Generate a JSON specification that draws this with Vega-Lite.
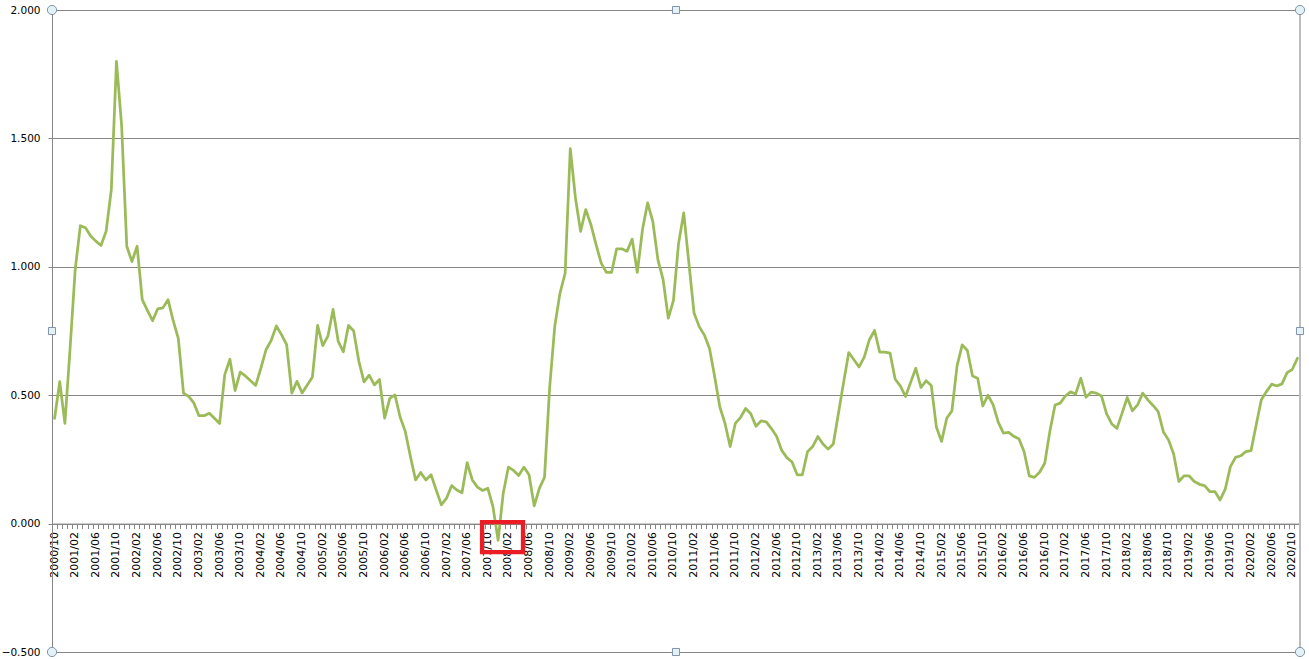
{
  "$schema": "https://vega.github.io/schema/vega-lite/v6.json",
  "width": 1248,
  "height": 642,
  "autosize": {"type": "none"},
  "padding": {"left": 52, "top": 10, "right": 9, "bottom": 7},
  "background": "white",
  "config": {
    "view": {"stroke": null},
    "axis": {"labelFont": "DejaVu Sans", "labelColor": "#000000", "domainColor": "#868686", "tickColor": "#868686", "gridColor": "#868686", "gridOpacity": 1, "domainWidth": 1, "tickWidth": 1, "gridWidth": 1}
  },
  "datasets": {
    "s": [
      {"m":"2000/10","v":0.41},{"m":"2000/11","v":0.553},{"m":"2000/12","v":0.39},
      {"m":"2001/01","v":0.68},{"m":"2001/02","v":0.99},{"m":"2001/03","v":1.16},{"m":"2001/04","v":1.152},{"m":"2001/05","v":1.12},{"m":"2001/06","v":1.10},{"m":"2001/07","v":1.083},{"m":"2001/08","v":1.139},{"m":"2001/09","v":1.30},{"m":"2001/10","v":1.80},{"m":"2001/11","v":1.55},{"m":"2001/12","v":1.08},
      {"m":"2002/01","v":1.02},{"m":"2002/02","v":1.08},{"m":"2002/03","v":0.872},{"m":"2002/04","v":0.83},{"m":"2002/05","v":0.79},{"m":"2002/06","v":0.836},{"m":"2002/07","v":0.84},{"m":"2002/08","v":0.872},{"m":"2002/09","v":0.79},{"m":"2002/10","v":0.72},{"m":"2002/11","v":0.508},{"m":"2002/12","v":0.495},
      {"m":"2003/01","v":0.47},{"m":"2003/02","v":0.42},{"m":"2003/03","v":0.42},{"m":"2003/04","v":0.43},{"m":"2003/05","v":0.41},{"m":"2003/06","v":0.39},{"m":"2003/07","v":0.58},{"m":"2003/08","v":0.64},{"m":"2003/09","v":0.518},{"m":"2003/10","v":0.59},{"m":"2003/11","v":0.575},{"m":"2003/12","v":0.556},
      {"m":"2004/01","v":0.538},{"m":"2004/02","v":0.605},{"m":"2004/03","v":0.677},{"m":"2004/04","v":0.713},{"m":"2004/05","v":0.77},{"m":"2004/06","v":0.736},{"m":"2004/07","v":0.697},{"m":"2004/08","v":0.508},{"m":"2004/09","v":0.554},{"m":"2004/10","v":0.509},{"m":"2004/11","v":0.54},{"m":"2004/12","v":0.571},
      {"m":"2005/01","v":0.772},{"m":"2005/02","v":0.693},{"m":"2005/03","v":0.73},{"m":"2005/04","v":0.834},{"m":"2005/05","v":0.71},{"m":"2005/06","v":0.669},{"m":"2005/07","v":0.772},{"m":"2005/08","v":0.75},{"m":"2005/09","v":0.632},{"m":"2005/10","v":0.552},{"m":"2005/11","v":0.578},{"m":"2005/12","v":0.54},
      {"m":"2006/01","v":0.561},{"m":"2006/02","v":0.411},{"m":"2006/03","v":0.488},{"m":"2006/04","v":0.501},{"m":"2006/05","v":0.415},{"m":"2006/06","v":0.359},{"m":"2006/07","v":0.261},{"m":"2006/08","v":0.17},{"m":"2006/09","v":0.199},{"m":"2006/10","v":0.17},{"m":"2006/11","v":0.19},{"m":"2006/12","v":0.131},
      {"m":"2007/01","v":0.073},{"m":"2007/02","v":0.099},{"m":"2007/03","v":0.148},{"m":"2007/04","v":0.131},{"m":"2007/05","v":0.12},{"m":"2007/06","v":0.237},{"m":"2007/07","v":0.17},{"m":"2007/08","v":0.142},{"m":"2007/09","v":0.129},{"m":"2007/10","v":0.138},{"m":"2007/11","v":0.066},{"m":"2007/12","v":-0.065},
      {"m":"2008/01","v":0.118},{"m":"2008/02","v":0.22},{"m":"2008/03","v":0.207},{"m":"2008/04","v":0.187},{"m":"2008/05","v":0.22},{"m":"2008/06","v":0.19},{"m":"2008/07","v":0.069},{"m":"2008/08","v":0.137},{"m":"2008/09","v":0.18},{"m":"2008/10","v":0.53},{"m":"2008/11","v":0.77},{"m":"2008/12","v":0.897},
      {"m":"2009/01","v":0.975},{"m":"2009/02","v":1.46},{"m":"2009/03","v":1.268},{"m":"2009/04","v":1.138},{"m":"2009/05","v":1.223},{"m":"2009/06","v":1.164},{"m":"2009/07","v":1.086},{"m":"2009/08","v":1.014},{"m":"2009/09","v":0.978},{"m":"2009/10","v":0.978},{"m":"2009/11","v":1.07},{"m":"2009/12","v":1.07},
      {"m":"2010/01","v":1.06},{"m":"2010/02","v":1.108},{"m":"2010/03","v":0.978},{"m":"2010/04","v":1.145},{"m":"2010/05","v":1.249},{"m":"2010/06","v":1.177},{"m":"2010/07","v":1.027},{"m":"2010/08","v":0.95},{"m":"2010/09","v":0.80},{"m":"2010/10","v":0.868},{"m":"2010/11","v":1.092},{"m":"2010/12","v":1.21},
      {"m":"2011/01","v":1.014},{"m":"2011/02","v":0.82},{"m":"2011/03","v":0.767},{"m":"2011/04","v":0.734},{"m":"2011/05","v":0.682},{"m":"2011/06","v":0.572},{"m":"2011/07","v":0.454},{"m":"2011/08","v":0.39},{"m":"2011/09","v":0.30},{"m":"2011/10","v":0.39},{"m":"2011/11","v":0.413},{"m":"2011/12","v":0.448},
      {"m":"2012/01","v":0.428},{"m":"2012/02","v":0.379},{"m":"2012/03","v":0.40},{"m":"2012/04","v":0.396},{"m":"2012/05","v":0.37},{"m":"2012/06","v":0.34},{"m":"2012/07","v":0.285},{"m":"2012/08","v":0.257},{"m":"2012/09","v":0.24},{"m":"2012/10","v":0.19},{"m":"2012/11","v":0.19},{"m":"2012/12","v":0.28},
      {"m":"2013/01","v":0.30},{"m":"2013/02","v":0.339},{"m":"2013/03","v":0.31},{"m":"2013/04","v":0.29},{"m":"2013/05","v":0.31},{"m":"2013/06","v":0.43},{"m":"2013/07","v":0.55},{"m":"2013/08","v":0.666},{"m":"2013/09","v":0.638},{"m":"2013/10","v":0.61},{"m":"2013/11","v":0.648},{"m":"2013/12","v":0.716},
      {"m":"2014/01","v":0.752},{"m":"2014/02","v":0.668},{"m":"2014/03","v":0.668},{"m":"2014/04","v":0.664},{"m":"2014/05","v":0.562},{"m":"2014/06","v":0.536},{"m":"2014/07","v":0.495},{"m":"2014/08","v":0.55},{"m":"2014/09","v":0.605},{"m":"2014/10","v":0.53},{"m":"2014/11","v":0.556},{"m":"2014/12","v":0.538},
      {"m":"2015/01","v":0.375},{"m":"2015/02","v":0.32},{"m":"2015/03","v":0.41},{"m":"2015/04","v":0.439},{"m":"2015/05","v":0.614},{"m":"2015/06","v":0.696},{"m":"2015/07","v":0.674},{"m":"2015/08","v":0.575},{"m":"2015/09","v":0.566},{"m":"2015/10","v":0.458},{"m":"2015/11","v":0.50},{"m":"2015/12","v":0.462},
      {"m":"2016/01","v":0.394},{"m":"2016/02","v":0.352},{"m":"2016/03","v":0.355},{"m":"2016/04","v":0.34},{"m":"2016/05","v":0.33},{"m":"2016/06","v":0.28},{"m":"2016/07","v":0.186},{"m":"2016/08","v":0.18},{"m":"2016/09","v":0.20},{"m":"2016/10","v":0.235},{"m":"2016/11","v":0.36},{"m":"2016/12","v":0.462},
      {"m":"2017/01","v":0.469},{"m":"2017/02","v":0.497},{"m":"2017/03","v":0.513},{"m":"2017/04","v":0.505},{"m":"2017/05","v":0.566},{"m":"2017/06","v":0.492},{"m":"2017/07","v":0.512},{"m":"2017/08","v":0.508},{"m":"2017/09","v":0.497},{"m":"2017/10","v":0.427},{"m":"2017/11","v":0.388},{"m":"2017/12","v":0.371},
      {"m":"2018/01","v":0.43},{"m":"2018/02","v":0.491},{"m":"2018/03","v":0.439},{"m":"2018/04","v":0.462},{"m":"2018/05","v":0.508},{"m":"2018/06","v":0.482},{"m":"2018/07","v":0.46},{"m":"2018/08","v":0.436},{"m":"2018/09","v":0.358},{"m":"2018/10","v":0.326},{"m":"2018/11","v":0.271},{"m":"2018/12","v":0.164},
      {"m":"2019/01","v":0.186},{"m":"2019/02","v":0.186},{"m":"2019/03","v":0.164},{"m":"2019/04","v":0.153},{"m":"2019/05","v":0.148},{"m":"2019/06","v":0.125},{"m":"2019/07","v":0.125},{"m":"2019/08","v":0.092},{"m":"2019/09","v":0.134},{"m":"2019/10","v":0.222},{"m":"2019/11","v":0.258},{"m":"2019/12","v":0.264},
      {"m":"2020/01","v":0.28},{"m":"2020/02","v":0.284},{"m":"2020/03","v":0.384},{"m":"2020/04","v":0.482},{"m":"2020/05","v":0.514},{"m":"2020/06","v":0.543},{"m":"2020/07","v":0.536},{"m":"2020/08","v":0.544},{"m":"2020/09","v":0.588},{"m":"2020/10","v":0.60},{"m":"2020/11","v":0.644}
    ],
    "handles": [
      {"hx":0,"hy":2,"shape":"circle"},{"hx":1,"hy":2,"shape":"circle"},{"hx":0,"hy":-0.5,"shape":"circle"},{"hx":1,"hy":-0.5,"shape":"circle"},
      {"hx":0.5,"hy":2,"shape":"square"},{"hx":0.5,"hy":-0.5,"shape":"square"},{"hx":0,"hy":0.75,"shape":"square"},{"hx":1,"hy":0.75,"shape":"square"}
    ],
    "box": [{"x0":0.3446,"x1":0.3774,"y0":0.006,"y1":-0.111}],
    "edge": [{"ex":1,"ey0":-0.5,"ey1":2}]
  },
  "layer": [
    {
      "data": {"name": "s"},
      "mark": {"type": "line", "opacity": 0},
      "encoding": {
        "x": {"field": "m", "type": "ordinal", "scale": {"type": "band", "paddingInner": 0, "paddingOuter": 0},
              "axis": {"orient": "bottom", "offset": -128.4, "bandPosition": 0, "labels": false, "ticks": true, "tickSize": 5, "domain": true, "grid": false, "title": null}},
        "y": {"field": "v", "type": "quantitative", "scale": {"domain": [-0.5, 2], "nice": false, "zero": false},
              "axis": {"values": [-0.5, 0, 0.5, 1, 1.5, 2], "format": ".3f", "grid": true, "tickSize": 4, "labelPadding": 8, "labelFontSize": 10.5, "title": null, "domain": true}}
      }
    },
    {
      "data": {"name": "edge"},
      "mark": {"type": "rule", "color": "#bdbdbd", "strokeWidth": 2},
      "encoding": {
        "x": {"field": "ex", "type": "quantitative", "scale": {"domain": [0, 1], "nice": false, "zero": false}, "axis": null},
        "y": {"field": "ey0", "type": "quantitative"},
        "y2": {"field": "ey1"}
      }
    },
    {
      "data": {"name": "s"},
      "mark": {"type": "line", "color": "#9BBB59", "strokeWidth": 2.75, "strokeJoin": "round", "strokeCap": "round"},
      "encoding": {
        "x": {"field": "m", "type": "ordinal", "scale": {"type": "band", "paddingInner": 0, "paddingOuter": 0},
              "axis": {"orient": "bottom", "offset": -128.4, "labels": true, "ticks": false, "domain": false, "grid": false, "title": null,
                       "labelAngle": 270, "labelPadding": 8, "labelFontSize": 11, "labelOverlap": false, "labelFlush": false,
                       "labelExpr": "indexof(['02','06','10'], substring(datum.value, 5)) >= 0 ? datum.value : ''"}},
        "y": {"field": "v", "type": "quantitative"}
      }
    },
    {
      "data": {"name": "box"},
      "mark": {"type": "rect", "filled": false, "stroke": "#ec1c24", "strokeWidth": 4.3},
      "encoding": {
        "x": {"field": "x0", "type": "quantitative", "scale": {"domain": [0, 1], "nice": false, "zero": false}, "axis": null},
        "x2": {"field": "x1"},
        "y": {"field": "y0", "type": "quantitative"},
        "y2": {"field": "y1"}
      }
    },
    {
      "data": {"name": "handles"},
      "mark": {"type": "point", "filled": true, "fill": "#e4f1f6", "stroke": "#7d93a8", "strokeWidth": 1, "opacity": 1},
      "encoding": {
        "x": {"field": "hx", "type": "quantitative", "scale": {"domain": [0, 1], "nice": false, "zero": false}, "axis": null},
        "y": {"field": "hy", "type": "quantitative"},
        "shape": {"field": "shape", "type": "nominal", "scale": {"domain": ["circle", "square"], "range": ["circle", "square"]}, "legend": null},
        "size": {"field": "shape", "type": "nominal", "scale": {"domain": ["circle", "square"], "range": [85, 50]}, "legend": null}
      }
    }
  ],
  "resolve": {"scale": {"x": "independent"}, "axis": {"x": "independent"}}
}
